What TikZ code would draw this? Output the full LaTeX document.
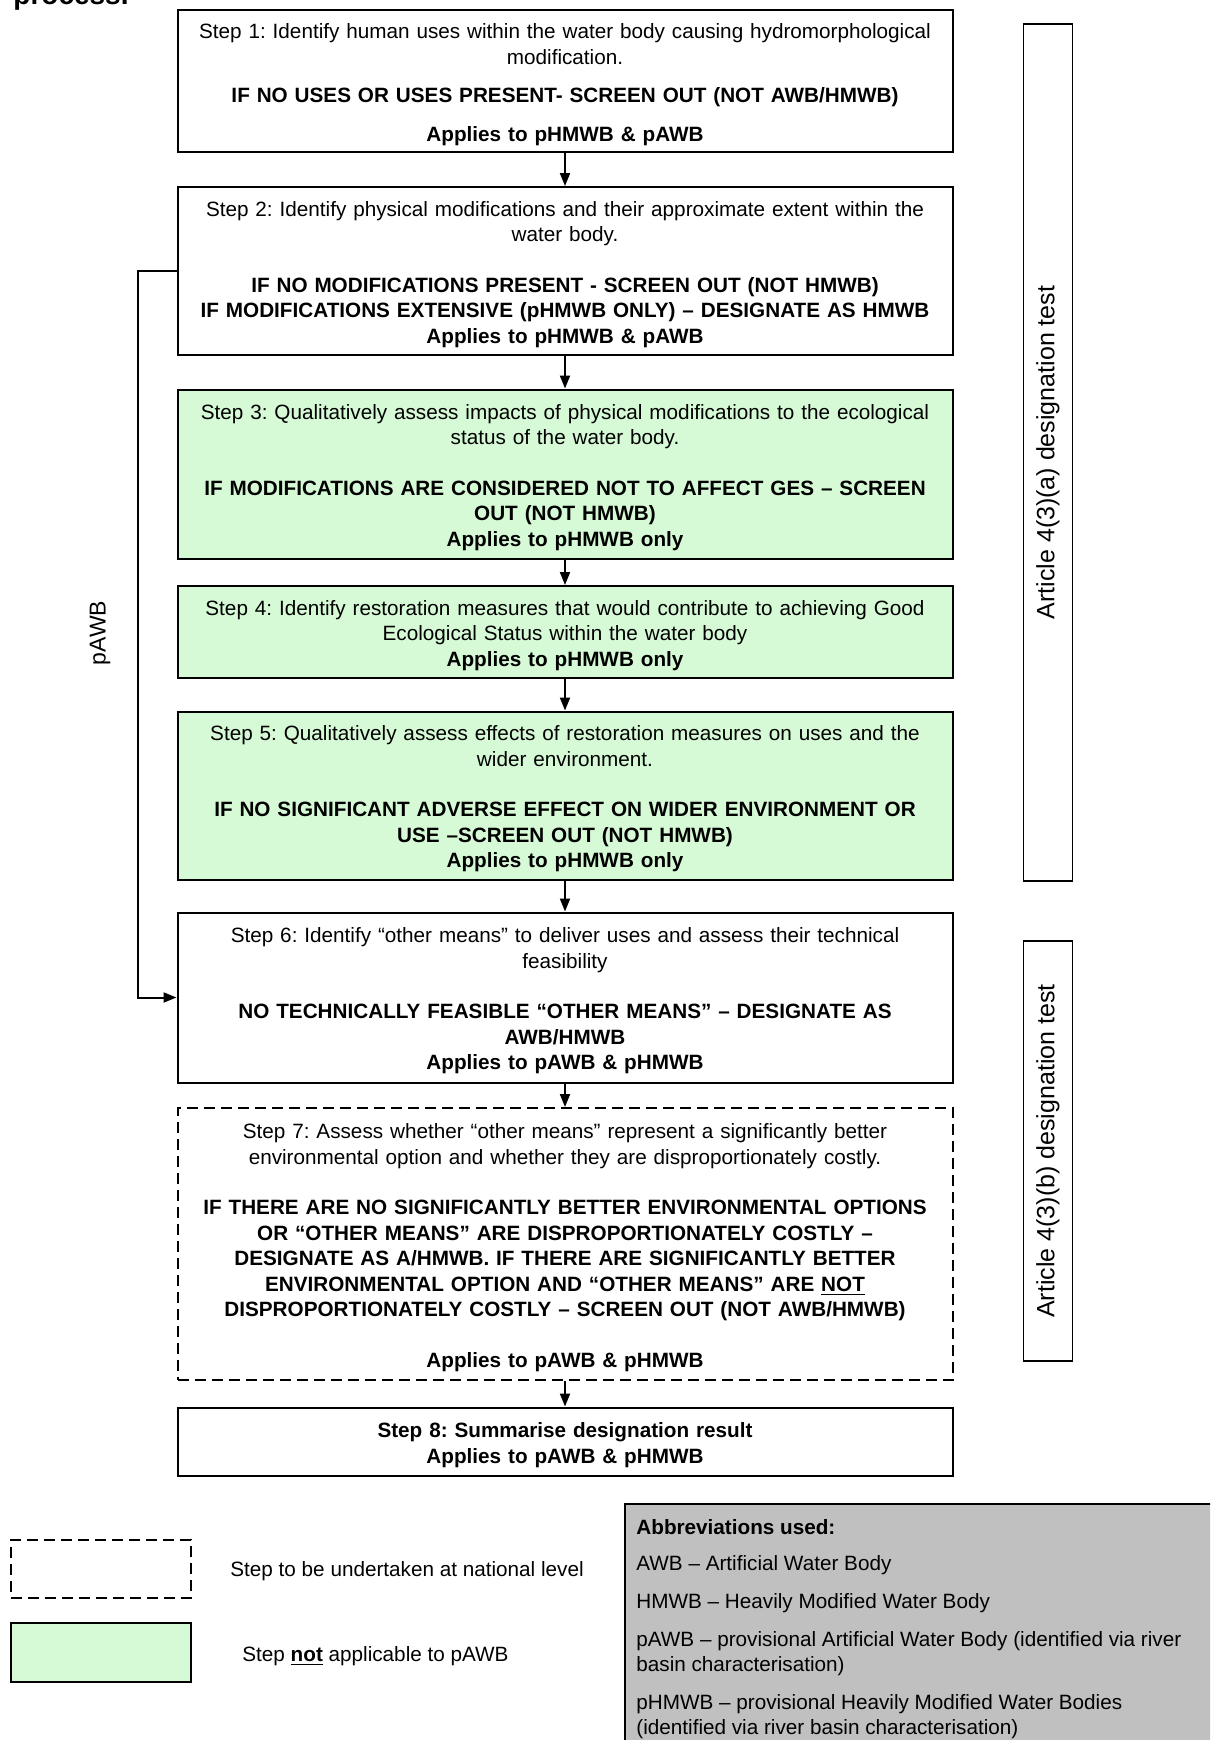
\documentclass[tikz,border=0pt]{standalone}
\usepackage{fontspec}
\setmainfont{Liberation Sans}
\usetikzlibrary{arrows.meta}
\definecolor{stepgreen}{RGB}{214,250,214}
\definecolor{abbrgrey}{RGB}{192,192,192}
\frenchspacing

\begin{document}
\begin{tikzpicture}[x=0.5pt,y=-0.5pt,
		stepbox/.style={draw,line width=1pt,minimum width=387.5pt,text width=378pt,align=center,inner sep=0pt,font=\fontsize{10.35}{12.75}\selectfont,execute at begin node={\rule{0pt}{11pt}}},
		greenbox/.style={stepbox,fill=stepgreen},
		nationalbox/.style={stepbox,dash pattern=on 5.5pt off 3pt},
		flow/.style={line width=1pt,-{Triangle[width=5pt,length=6.5pt]}},
		testbox/.style={draw,line width=0.8pt,rotate=90,minimum height=24.5pt,inner sep=0pt,font=\fontsize{12.5}{15}\selectfont},
		plain/.style={font=\fontsize{10.35}{12.75}\selectfont,inner sep=0pt}]
		\path[use as bounding box,clip] (0,0) rectangle (1210,1740);
		\node[anchor=base west,inner sep=0pt,font=\bfseries\fontsize{14}{16}\selectfont] (proc) at (13,4) {process.};
		% steps of the test
		\node[stepbox,minimum height=71pt] (s1) at (565,81) {Step 1: Identify human uses within the water body causing hydromorphological\\ modification.\\[6.5pt]
			\textbf{IF NO USES OR USES PRESENT- SCREEN OUT (NOT AWB/HMWB)}\\[6.5pt]
			\textbf{Applies to pHMWB \& pAWB}};
		\node[stepbox,minimum height=84pt] (s2) at (565,271) {Step 2: Identify physical modifications and their approximate extent within the\\ water body.\\[12.5pt]
			\textbf{IF NO MODIFICATIONS PRESENT - SCREEN OUT (NOT HMWB)}\\
			\textbf{IF MODIFICATIONS EXTENSIVE (pHMWB ONLY) – DESIGNATE AS HMWB}\\
			\textbf{Applies to pHMWB \& pAWB}};
		\node[greenbox,minimum height=84.5pt] (s3) at (565,474) {Step 3: Qualitatively assess impacts of physical modifications to the ecological\\ status of the water body.\\[12.5pt]
			\textbf{IF MODIFICATIONS ARE CONSIDERED NOT TO AFFECT GES – SCREEN}\\
			\textbf{OUT (NOT HMWB)}\\
			\textbf{Applies to pHMWB only}};
		\node[greenbox,minimum height=46pt] (s4) at (565,632) {Step 4: Identify restoration measures that would contribute to achieving Good\\ Ecological Status within the water body\\
			\textbf{Applies to pHMWB only}};
		\node[greenbox,minimum height=84pt] (s5) at (565,795.5) {Step 5: Qualitatively assess effects of restoration measures on uses and the\\ wider environment.\\[12.5pt]
			\textbf{IF NO SIGNIFICANT ADVERSE EFFECT ON WIDER ENVIRONMENT OR}\\
			\textbf{USE –SCREEN OUT (NOT HMWB)}\\
			\textbf{Applies to pHMWB only}};
		\node[stepbox,minimum height=85pt] (s6) at (565,997.5) {Step 6: Identify “other means” to deliver uses and assess their technical\\ feasibility\\[12.5pt]
			\textbf{NO TECHNICALLY FEASIBLE “OTHER MEANS” – DESIGNATE AS}\\
			\textbf{AWB/HMWB}\\
			\textbf{Applies to pAWB \& pHMWB}};
		\node[nationalbox,minimum height=136pt] (s7) at (565,1244) {Step 7: Assess whether “other means” represent a significantly better\\ environmental option and whether they are disproportionately costly.\\[12.5pt]
			\textbf{IF THERE ARE NO SIGNIFICANTLY BETTER ENVIRONMENTAL OPTIONS}\\
			\textbf{OR “OTHER MEANS” ARE DISPROPORTIONATELY COSTLY –}\\
			\textbf{DESIGNATE AS A/HMWB. IF THERE ARE SIGNIFICANTLY BETTER}\\
			\textbf{ENVIRONMENTAL OPTION AND “OTHER MEANS” ARE \underline{NOT}}\\
			\textbf{DISPROPORTIONATELY COSTLY – SCREEN OUT (NOT AWB/HMWB)}\\[12.5pt]
			\textbf{Applies to pAWB \& pHMWB}};
		\node[stepbox,minimum height=34pt] (s8) at (565,1441.5) {\textbf{Step 8: Summarise designation result}\\
			\textbf{Applies to pAWB \& pHMWB}};
		\draw[flow] (s1) -- (s2);
		\draw[flow] (s2) -- (s3);
		\draw[flow] (s3) -- (s4);
		\draw[flow] (s4) -- (s5);
		\draw[flow] (s5) -- (s6);
		\draw[flow] (s6) -- (s7);
		\draw[flow] (s7) -- (s8);
		% pAWB short cut
		\draw[flow] (s2.west) -- ++(-38.5,0) |- (s6.west);
		\node[rotate=90,inner sep=0pt,font=\fontsize{11.5}{14}\selectfont] (pawb) at (100,633) {pAWB};
		% article boxes
		\node[testbox,minimum width=428.5pt] (arta) at (1048,452.5) {Article 4(3)(a) designation test};
		\node[testbox,minimum width=210pt] (artb) at (1048,1151) {Article 4(3)(b) designation test};
		% legend
		\node[draw,line width=1pt,dash pattern=on 5.5pt off 3pt,minimum width=90pt,minimum height=29pt] (legnat) at (101,1569) {};
		\node[plain,anchor=west] (legnattxt) at (230,1571) {Step to be undertaken at national level};
		\node[draw,line width=1pt,fill=stepgreen,minimum width=90pt,minimum height=29.5pt] (leggreen) at (101,1652.5) {};
		\node[plain,anchor=west] (leggreentxt) at (242,1656) {Step \textbf{\underline{not}} applicable to pAWB};
		% abbreviations
		\filldraw[fill=abbrgrey,line width=1pt] (625,1504) rectangle (1240,1770);
		\node[plain,anchor=base west] (abbr) at (636,1534) {\textbf{Abbreviations used:}};
		\node[plain,anchor=base west] (awb) at (636,1570.5) {AWB – Artificial Water Body};
		\node[plain,anchor=base west] (hmwb) at (636,1608) {HMWB – Heavily Modified Water Body};
		\node[plain,anchor=base west,align=left] (pawbtxt) at (636,1671.5) {pAWB – provisional Artificial Water Body (identified via river\\ basin characterisation)};
		\node[plain,anchor=base west,align=left] (phmwb) at (636,1734.5) {pHMWB – provisional Heavily Modified Water Bodies\\ (identified via river basin characterisation)};
	\end{tikzpicture}
\end{document}
